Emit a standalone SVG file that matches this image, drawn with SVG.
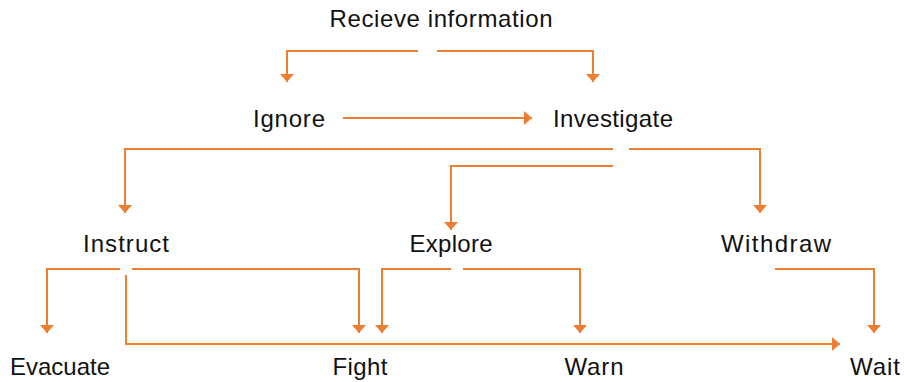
<svg xmlns="http://www.w3.org/2000/svg" width="904" height="382" viewBox="0 0 904 382">
<defs>
<style>
.t{font-family:"Liberation Sans",Arial,sans-serif;font-size:24px;fill:#111;text-anchor:middle}
.c{fill:none;stroke:#ED7D31;stroke-width:2}
.a{marker-end:url(#ah)}
</style>
<marker id="ah" markerUnits="userSpaceOnUse" viewBox="0 0 8 14" refX="8" refY="7" markerWidth="8" markerHeight="14" orient="auto">
<path d="M0,0 L8,7 L0,14 z" fill="#ED7D31"/>
</marker>
</defs>
<rect width="904" height="382" fill="#fff"/>
<g id="connectors">
<path class="c a" d="M418,51 H287 V82"/>
<path class="c a" d="M437,51 H593 V82"/>
<path class="c a" d="M343,118 H532"/>
<path class="c a" d="M613,149 H125 V213"/>
<path class="c a" d="M629,149 H760 V213"/>
<path class="c a" d="M613,166 H451 V230"/>
<path class="c a" d="M120,269 H47 V333"/>
<path class="c a" d="M132,269 H359 V333"/>
<path class="c a" d="M126,275 V344 H840"/>
<path class="c a" d="M451,269 H382 V333"/>
<path class="c a" d="M463,269 H580 V333"/>
<path class="c a" d="M775,269 H874 V333"/>
</g>
<g id="recieve"><text class="t" x="441" y="27" textLength="223">Recieve information</text></g>
<g id="ignore"><text class="t" x="289" y="127" textLength="72">Ignore</text></g>
<g id="investigate"><text class="t" x="613" y="127" textLength="120">Investigate</text></g>
<g id="instruct"><text class="t" x="126" y="252" textLength="86">Instruct</text></g>
<g id="explore"><text class="t" x="451" y="252" textLength="83">Explore</text></g>
<g id="withdraw"><text class="t" x="776" y="252" textLength="110">Withdraw</text></g>
<g id="evacuate"><text class="t" x="60" y="375" textLength="100">Evacuate</text></g>
<g id="fight"><text class="t" x="360" y="375" textLength="55">Fight</text></g>
<g id="warn"><text class="t" x="594" y="375" textLength="59">Warn</text></g>
<g id="wait"><text class="t" x="875" y="375" textLength="50">Wait</text></g>
</svg>
